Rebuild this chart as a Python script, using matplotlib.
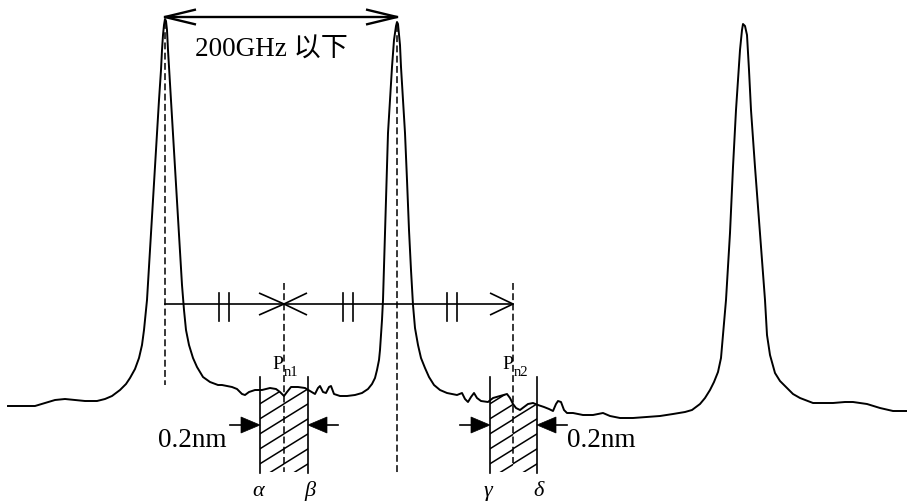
import numpy as np
import matplotlib
matplotlib.use("Agg")
import matplotlib.pyplot as plt
from matplotlib.patches import Polygon

plt.rcParams['font.family'] = ['Liberation Serif', 'Noto Sans CJK SC', 'DejaVu Sans']

# Optical spectrum trace (drawing units: x to the right, y downward)
spectrum_x = [8, 20, 35, 45, 55, 65, 75, 85, 97, 105, 112, 120, 126, 130, 135, 139,
              142, 144, 147, 150, 153, 156, 159, 161, 162, 163, 164, 165, 166, 167,
              168, 171, 174, 177, 180, 182, 184, 186, 189, 193, 197, 203, 210, 218,
              222, 227, 232, 237, 242, 245, 249, 255, 262, 270, 276, 280, 284, 287,
              291, 298, 305, 310, 315, 318, 320, 323, 326, 329, 331, 334, 340, 347,
              355, 362, 368, 372, 375, 377, 379, 380, 381, 382, 383, 384, 386, 388,
              390, 392, 394, 396, 397, 398, 400, 401, 403, 405, 407, 409, 411, 413,
              415, 418, 421, 425, 429, 434, 440, 447, 457, 462, 465, 468, 471, 474,
              477, 481, 488, 493, 500, 507, 510, 513, 516, 520, 524, 528, 533, 538,
              544, 549, 553, 556, 558, 561, 564, 567, 573, 583, 593, 603, 610, 620,
              633, 647, 660, 673, 685, 692, 700, 705, 710, 714, 718, 721, 723, 726,
              730, 733, 736, 738, 740, 742, 743, 745, 747, 749, 751, 755, 760, 765,
              767, 770, 775, 780, 787, 793, 800, 813, 833, 845, 853, 860, 867, 880,
              893, 907]
spectrum_y = [406, 406, 406, 403, 400, 399, 400, 401, 401, 399, 396, 390, 384, 378, 369, 358,
              345, 330, 300, 250, 200, 150, 100, 70, 50, 35, 25, 19, 21, 30,
              50, 100, 150, 200, 250, 285, 310, 330, 345, 358, 367, 377, 382, 385,
              385, 386, 387, 389, 394, 395, 392, 390, 390, 388, 389, 392, 396, 392,
              387, 387, 388, 391, 394, 388, 386, 392, 393, 387, 386, 394, 396, 396,
              395, 393, 389, 384, 378, 370, 360, 350, 335, 320, 300, 267, 200, 133,
              100, 67, 40, 26, 22, 24, 45, 67, 100, 133, 180, 230, 270, 305,
              328, 345, 358, 368, 377, 385, 390, 393, 395, 393, 399, 402, 397, 393,
              398, 401, 402, 398, 396, 394, 398, 404, 408, 410, 407, 404, 403, 405,
              407, 409, 411, 404, 401, 402, 410, 413, 413, 415, 415, 413, 416, 418,
              418, 417, 416, 414, 412, 410, 404, 398, 390, 382, 372, 358, 335, 300,
              233, 167, 110, 80, 50, 30, 24, 26, 35, 70, 110, 167, 233, 300,
              335, 355, 373, 381, 388, 394, 398, 403, 403, 402, 402, 403, 404, 408,
              411, 411]

# Channel peak positions and noise-measurement points
peak_x = [165, 397]
peak_top = [19, 22]
pn_x = [284, 513]
pn_labels = ["n1", "n2"]
window_edges = [(260, 308), (490, 537)]
edge_labels = [("α", "β"), ("γ", "δ")]
spacing_label = "200GHz 以下"
width_label = "0.2nm"

fig = plt.figure(figsize=(9.07, 5.04), dpi=100)
ax = fig.add_axes([0, 0, 1, 1])
ax.set_xlim(0, 907)
ax.set_ylim(504, 0)
ax.axis("off")

K = "black"
ax.plot(spectrum_x, spectrum_y, color=K, lw=1.4, solid_joinstyle="round", zorder=3)

dash = (0, (4.5, 2.2))


def open_head(tx, ty, direction, length, half, lw):
    ax.plot([tx - direction * length, tx, tx - direction * length],
            [ty - half, ty, ty + half], color=K, lw=lw, solid_capstyle="butt",
            solid_joinstyle="miter")


def filled_head(tx, ty, direction, length, half):
    ax.add_patch(Polygon([[tx, ty], [tx - direction * length, ty - half],
                          [tx - direction * length, ty + half]],
                         closed=True, facecolor=K, edgecolor=K, lw=0.5))


# Channel spacing arrow between the two peaks
y_top = 17
ax.plot([peak_x[0], peak_x[1]], [y_top, y_top], color=K, lw=1.7)
open_head(peak_x[0], y_top, -1, 31, 7.5, 1.7)
open_head(peak_x[1], y_top, 1, 31, 7.5, 1.7)
ax.text(195, 57, spacing_label, fontsize=19.5, va="baseline", ha="left", color=K)

# Vertical dashed lines at the peak centres
ax.plot([peak_x[0], peak_x[0]], [peak_top[0] + 3, 385], color=K, lw=1.1, linestyle=dash)
ax.plot([peak_x[1], peak_x[1]], [peak_top[1] + 3, 475], color=K, lw=1.1, linestyle=dash)

# Half-spacing arrows locating the noise points
y_mid = 304
ax.plot([peak_x[0], pn_x[1]], [y_mid, y_mid], color=K, lw=1.2)
open_head(pn_x[0], y_mid, 1, 25, 11, 1.2)
open_head(pn_x[0], y_mid, -1, 23, 11, 1.2)
open_head(pn_x[1], y_mid, 1, 23, 11, 1.2)
for cx in (223.5, 347.5, 451.5):
    for dx in (-5, 5):
        ax.plot([cx + dx, cx + dx], [293, 321], color=K, lw=1.2)

# Noise-point dashed lines
ax.plot([pn_x[0], pn_x[0]], [283, 472], color=K, lw=1.1, linestyle=dash)
ax.plot([pn_x[1], pn_x[1]], [283, 463], color=K, lw=1.1, linestyle=dash)

# Hatched 0.2 nm integration windows under the spectrum
y_bottom = 472
sx = np.array(spectrum_x, dtype=float)
sy = np.array(spectrum_y, dtype=float)
for (left, right), pc in zip(window_edges, pn_x):
    for a, b in ((left, pc), (pc, right)):
        xs = sx[(sx > a) & (sx < b)]
        xs = np.concatenate([[a], xs, [b]])
        ys = np.interp(xs, sx, sy)
        verts = np.column_stack([np.concatenate([xs, [b, a]]),
                                 np.concatenate([ys, [y_bottom, y_bottom]])])
        clip = Polygon(verts, closed=True, facecolor="none", edgecolor="none")
        ax.add_patch(clip)
        slope = 0.62
        for c in np.arange(360, 520, 15.0):
            line, = ax.plot([a - 2, b + 2], [c, c - slope * (b - a + 4)],
                            color=K, lw=1.1)
            line.set_clip_path(clip)
    for ex in (left, right):
        ax.plot([ex, ex], [377, y_bottom + 1], color=K, lw=1.2)

# 0.2 nm width arrows
y_arr = 425
for (left, right) in window_edges:
    ax.plot([left - 30, left - 10], [y_arr, y_arr], color=K, lw=1.2)
    filled_head(left, y_arr, 1, 19, 8)
    ax.plot([right + 10, right + 30], [y_arr, y_arr], color=K, lw=1.2)
    filled_head(right, y_arr, -1, 19, 8)
ax.text(158, 447, width_label, fontsize=19.5, va="baseline", ha="left", color=K)
ax.text(567, 447, width_label, fontsize=19.5, va="baseline", ha="left", color=K)

# Noise point labels
for pc, sub, px in zip(pn_x, pn_labels, (272, 502)):
    ax.text(px, 369, "P", fontsize=14, va="baseline", ha="left", color=K)
    ax.text(px + 12, 376, sub, fontsize=10.5, va="baseline", ha="left", color=K)

# Window edge labels
for (left, right), (la, lb) in zip(window_edges, edge_labels):
    ax.text(left - 2, 496, la, fontsize=16, style="italic", va="baseline", ha="center", color=K)
    ax.text(right + 2, 496, lb, fontsize=16, style="italic", va="baseline", ha="center", color=K)

fig.savefig("out.png", dpi=100, facecolor="white")
